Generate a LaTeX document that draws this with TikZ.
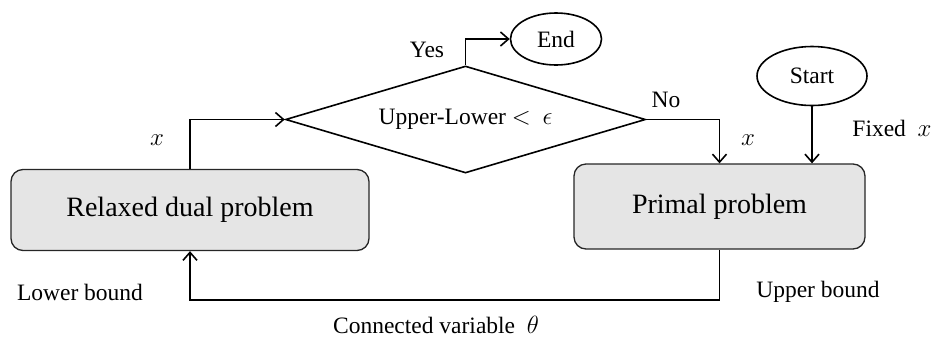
\documentclass[tikz,border=0pt]{standalone}
\usepackage{fontspec}
\setmainfont{Liberation Serif}
\usetikzlibrary{shapes.geometric,arrows.meta}
\begin{document}
\begin{tikzpicture}[x=1pt,y=-1pt,
  every node/.style={font=\fontsize{23.5}{28}\selectfont},
  procbox/.style={draw=black!85,line width=1.3pt,fill=black!10,rounded corners=12pt,
    font=\fontsize{28}{33}\selectfont,inner sep=0pt},
  term/.style={ellipse,draw,line width=1.6pt,inner sep=0pt},
  arr/.style={line width=1.6pt,-{Straight Barb[length=8pt,width=14pt,line width=1.6pt]}},
  lbl/.style={inner sep=0pt}]
\useasboundingbox (0,0) rectangle (936,341);
% nodes
\node[procbox,minimum width=358pt,minimum height=81pt] (dual) at (190,210) {Relaxed dual problem};
\node[procbox,minimum width=291pt,minimum height=85pt] (primal) at (719.5,206.5) {Primal problem};
\node[diamond,aspect=3.36,draw,line width=1.6pt,inner sep=0pt,minimum width=360pt,minimum height=107pt] (dec) at (465.5,119.5) {Upper-Lower $<$ \ $\epsilon$};
\node[term,minimum width=91pt,minimum height=52pt] (endn) at (556,39) {End};
\node[term,minimum width=110pt,minimum height=59pt] (start) at (812,76) {Start};
\coordinate (bot) at (720,300);
% connectors
\draw[arr] (dec.north) |- (endn.west);
\draw[arr] (dec.east) -| (primal.north);
\draw[arr] (start.south) -- (start.south |- primal.north);
\draw[arr] (primal.south) -- (primal.south |- bot) -| (dual.south);
\draw[arr] (dual.north) |- (dec.west);
% labels
\node[lbl] (yes) at (427,50) {Yes};
\node[lbl] (no) at (666,100) {No};
\node[lbl] (xr) at (748,140) {$x$};
\node[lbl] (fixed) at (892,128) {Fixed\ \ $x$};
\node[lbl] (xl) at (157,140) {$x$};
\node[lbl] (lower) at (80,292) {Lower\ bound};
\node[lbl] (upper) at (818,292) {Upper\ bound};
\node[lbl] (conn) at (436,325) {Connected\ variable\ \ $\theta$};
\end{tikzpicture}
\end{document}
